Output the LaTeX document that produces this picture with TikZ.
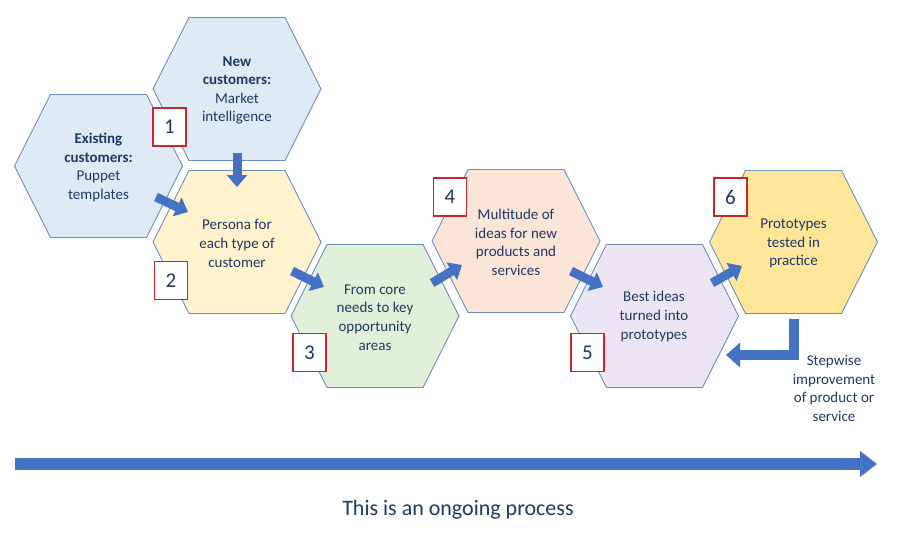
\documentclass[tikz,border=0pt]{standalone}
\usepackage{fontspec}
\setmainfont{Carlito}
\usetikzlibrary{arrows.meta}
\definecolor{navy}{RGB}{31,56,100}
\definecolor{hexline}{RGB}{112,140,188}
\definecolor{cblue}{RGB}{222,235,247}
\definecolor{cyel}{RGB}{255,242,204}
\definecolor{cgreen}{RGB}{226,240,217}
\definecolor{cpeach}{RGB}{251,229,214}
\definecolor{cpurp}{RGB}{236,230,244}
\definecolor{cgold}{RGB}{255,230,153}
\definecolor{arrblue}{RGB}{68,114,196}
\definecolor{boxred}{RGB}{200,40,40}
\tikzset{
  hexpic/.pic={\path[draw=hexline,line width=0.9pt,pic actions] (-84,0)--(-48,-71.5)--(48,-71.5)--(84,0)--(48,71.5)--(-48,71.5)--cycle;},
  hextext/.style={align=center,text=navy,font=\fontsize{15}{18.6}\selectfont,inner sep=0pt,yshift=-1.5pt},
  numbox/.style={draw=boxred,line width=1.1pt,fill=white,text=navy,minimum width=33,minimum height=38,inner sep=0pt,font=\fontsize{21}{24}\selectfont},
  blockarrow/.style={draw=arrblue,line width=9pt,-{Triangle[length=12pt,width=20pt]}},
}
\begin{document}
\begin{tikzpicture}[x=1pt,y=-1pt]
\useasboundingbox (0,0) rectangle (912,536);
% hexagons
\pic[fill=cblue] at (98.5,166) {hexpic};
\pic[fill=cblue] at (237,89) {hexpic};
\pic[fill=cyel] at (237,242) {hexpic};
\pic[fill=cgreen] at (375,316) {hexpic};
\pic[fill=cpeach] at (516,241) {hexpic};
\pic[fill=cpurp] at (654.5,316) {hexpic};
\pic[fill=cgold] at (793.5,242) {hexpic};
% texts
\node[hextext] (hex) at (98.5,166) {\textbf{Existing}\\\textbf{customers:}\\Puppet\\templates};
\node[hextext] (hnew) at (237,89) {\textbf{New}\\\textbf{customers:}\\Market\\intelligence};
\node[hextext] (h2) at (237,242) {Persona for\\each type of\\customer};
\node[hextext] (h3) at (375,316) {From core\\needs to key\\opportunity\\areas};
\node[hextext] (h4) at (516,241) {Multitude of\\ideas for new\\products and\\services};
\node[hextext] (h5) at (654,315) {Best ideas\\turned into\\prototypes};
\node[hextext] (h6) at (793.5,242) {Prototypes\\tested in\\practice};
% number boxes
\node[numbox] (n1) at (169.5,127) {1};
\node[numbox] (n2) at (171,280.5) {2};
\node[numbox] (n3) at (309.5,352.5) {3};
\node[numbox] (n4) at (450,197) {4};
\node[numbox] (n5) at (587.5,352.5) {5};
\node[numbox] (n6) at (730.5,197) {6};
% arrow end points
\coordinate (a1s) at (237,153);
\coordinate (a1e) at (237,187);
\coordinate (a0s) at (156,197);
\coordinate (a0e) at (188,212);
\coordinate (a2s) at (292,271);
\coordinate (a2e) at (324,287);
\coordinate (a3s) at (432,283);
\coordinate (a3e) at (462,265);
\coordinate (a4s) at (571,271);
\coordinate (a4e) at (603,287);
\coordinate (a5s) at (712,283);
\coordinate (a5e) at (742,266);
\coordinate (a6s) at (794,319);
\coordinate (a6e) at (726,355);
\coordinate (bs) at (15,464);
\coordinate (be) at (877,464);
\draw[blockarrow] (a1s) -- (a1e);
\draw[blockarrow] (a0s) -- (a0e);
\draw[blockarrow] (a2s) -- (a2e);
\draw[blockarrow] (a3s) -- (a3e);
\draw[blockarrow] (a4s) -- (a4e);
\draw[blockarrow] (a5s) -- (a5e);
\draw[draw=arrblue,line width=10pt,line join=miter,-{Triangle[length=14pt,width=24pt]}] (a6s) |- (a6e);
\draw[draw=arrblue,line width=12pt,-{Triangle[length=17pt,width=25pt]}] (bs) -- (be);
% side and bottom texts
\node[hextext] (step) at (834,387) {Stepwise\\improvement\\of product or\\service};
\node[text=navy,font=\fontsize{22}{26}\selectfont,inner sep=0pt] (ongoing) at (458,510) {This is an ongoing process};
\end{tikzpicture}
\end{document}
